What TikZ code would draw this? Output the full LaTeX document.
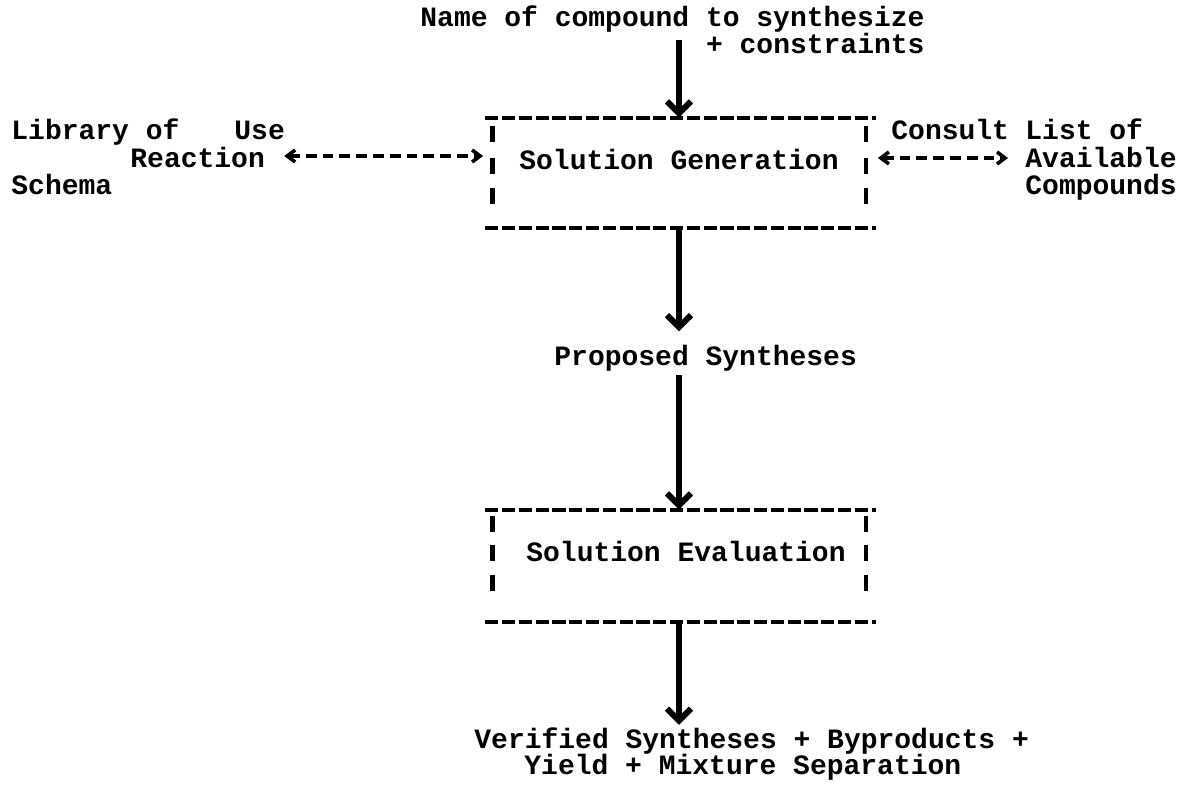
\documentclass[tikz,border=0pt]{standalone}
\usepackage{fontspec}
\setmonofont{Liberation Mono}
\usetikzlibrary{arrows.meta,calc}
\begin{document}
\begin{tikzpicture}[x=0.5pt,y=-0.5pt,
  txt/.style={font=\ttfamily\bfseries\fontsize{14pt}{14.5pt}\selectfont,
              inner sep=0pt, anchor=base west},
  stage/.style={minimum width=186.5pt, minimum height=55pt, inner sep=0pt},
  hrule/.style={line width=2pt, dash pattern=on 6.6pt off 1.8pt},
  vbar/.style={line width=2.4pt},
  flow/.style={line width=3pt,
               -{Straight Barb[length=6pt,width=12pt,line width=3pt]}},
  dlink/.style={line width=1.8pt, dash pattern=on 5.4pt off 3pt,
               {Straight Barb[length=4pt,width=6pt,line width=1.8pt]}-{Straight Barb[length=4pt,width=6pt,line width=1.8pt]}}
]
\useasboundingbox (0,0) rectangle (1186,792);

% input at the top
\node[txt] (name) at (420,27) {Name of compound to synthesize};
\node[txt, anchor=base east] (cons) at ($(name.base east)+(0,27)$) {+ constraints};

% stage boxes (typed frame drawn below)
\node[stage] (gen) at (679,173) {};
\node[txt, anchor=base] (genlbl) at (679,169) {Solution Generation};
\node[stage, minimum height=56pt] (eval) at (679,566) {};
\node[txt, anchor=base] (evallbl) at (686,561) {Solution Evaluation};

% left side: reaction library
\node[txt] (lib) at (11,139) {Library of};
\node[txt] (use) at (234,139) {Use};
\node[txt] (reac) at (130,167) {Reaction};
\node[txt] (schema) at (11,194) {Schema};

% right side: available compounds
\node[txt] (consult) at (891,139) {Consult};
\node[txt] (list) at (1025,139) {List of};
\node[txt] (avail) at (1025,167) {Available};
\node[txt] (comp) at (1025,194) {Compounds};

% intermediate and final results
\node[txt] (prop) at (554,365) {Proposed Syntheses};
\node[txt] (ver) at (474,748) {Verified Syntheses + Byproducts +};
\node[txt] (yield) at (524,774) {Yield + Mixture Separation};

% typed frames
\foreach \b/\da/\db/\dc in {gen/-39/-7/23, eval/-42/-13/17} {
  \draw[hrule] ($(\b.north west)+(-7,0)$) -- ($(\b.north east)+(10,0)$);
  \draw[hrule] ($(\b.south west)+(-7,0)$) -- ($(\b.south east)+(10,0)$);
  \foreach \dy in {\da,\db,\dc} {
    \draw[vbar] ($(\b.west)+(0,\dy)$) +(0,-8) -- +(0,8);
    \draw[vbar] ($(\b.east)+(0,\dy)$) +(0,-8) -- +(0,8);
  }
}

% main flow
\draw[flow] ($(name.south -| gen.north)+(0,7)$) -- (gen.north);
\draw[flow] (gen.south) -- ($(prop.north -| gen.south)+(0,-13)$);
\draw[flow] ($(prop.south -| eval.north)+(0,4)$) -- (eval.north);
\draw[flow] (eval.south) -- ($(ver.north -| eval.south)+(0,-2)$);

% two-way consultations
\draw[dlink] ($(reac.east)+(19,-1)$) -- ($(gen.west |- reac.east)+(-9,-1)$);
\draw[dlink] ($(gen.east |- avail.west)+(12,1)$) -- ($(avail.west)+(-17,1)$);
\end{tikzpicture}
\end{document}
